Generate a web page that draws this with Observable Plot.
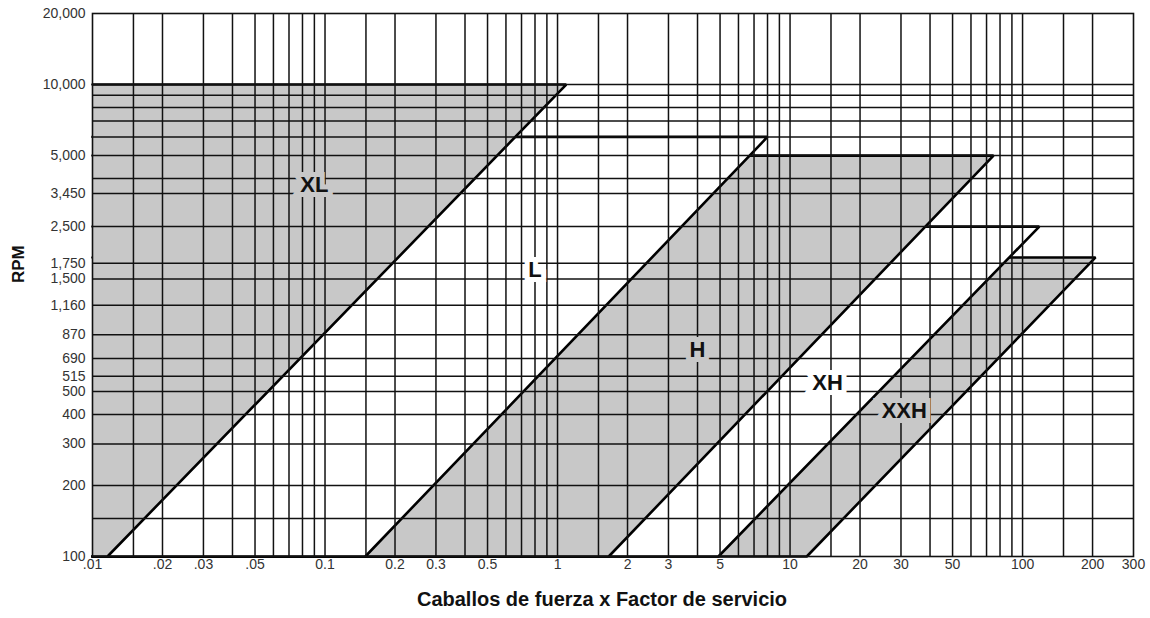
<!DOCTYPE html>
<html><head><meta charset="utf-8">
<script src="https://cdn.jsdelivr.net/npm/d3@7"></script>
<script src="https://cdn.jsdelivr.net/npm/@observablehq/plot@0.6"></script>
<style>body{margin:0;background:#fff;font-family:"Liberation Sans",Arial,sans-serif;}</style>
</head><body><div id="chart"></div>
<script>
// Belt sections: top RPM, HP where the top line ends, HP at 100 RPM
const belts   = ["XL", "L", "H", "XH", "XXH"];
const topRpm  = [10000, 6000, 5000, 2500, 1850];
const hpAtTop = [1.09, 8.0, 75, 118, 206];
const hpAt100 = [0.0116, 0.149, 1.66, 4.92, 11.8];
const shaded  = [true, false, true, false, true];
const labelHp  = [0.09, 0.8, 4, 14.5, 31];
const labelRpm = [3750, 1630, 750, 545, 415];

const xTicks = [0.01, 0.02, 0.03, 0.05, 0.1, 0.2, 0.3, 0.5, 1, 2, 3, 5, 10, 20, 30, 50, 100, 200, 300];
const xTickLabels = [".01", ".02", ".03", ".05", "0.1", "0.2", "0.3", "0.5", "1", "2", "3", "5", "10", "20", "30", "50", "100", "200", "300"];
const yTicks = [100, 200, 300, 400, 500, 580, 690, 870, 1160, 1500, 1750, 2500, 3450, 5000, 10000, 20000];
const yTickLabels = ["100", "200", "300", "400", "500", "515", "690", "870", "1,160", "1,500", "1,750", "2,500", "3,450", "5,000", "10,000", "20,000"];

const xGrid = [0.015, 0.02, 0.03, 0.04, 0.05, 0.06, 0.07, 0.08, 0.09,
  0.1, 0.15, 0.2, 0.3, 0.4, 0.5, 0.6, 0.7, 0.8, 0.9,
  1, 1.5, 2, 3, 4, 5, 6, 7, 8, 9,
  10, 15, 20, 30, 40, 50, 60, 70, 80, 90,
  100, 150, 200];
const yGrid = [145, 200, 300, 400, 500, 580, 690, 870, 1160, 1500, 1750, 2500, 3450, 4000, 5000, 6000, 7000, 8000, 9000, 10000];

const xDomain = [0.01, 300];
const yDomain = [100, 20000];
const GREY = "#c8c8c8";

// polygons: region left of each belt's diagonal and below its top, drawn right-to-left
const polys = belts.map((b, i) => ({
  belt: b, shaded: shaded[i],
  pts: [
    {x: xDomain[0], y: yDomain[0]},
    {x: hpAt100[i], y: yDomain[0]},
    {x: hpAtTop[i], y: topRpm[i]},
    {x: xDomain[0], y: topRpm[i]}
  ]
})).reverse();

const labels = belts.map((b, i) => ({b, x: labelHp[i], y: labelRpm[i], bg: shaded[i] ? GREY : "white"}));
const xTickData = xTicks.map((v, i) => ({v, t: xTickLabels[i]}));
const yTickData = yTicks.map((v, i) => ({v, t: yTickLabels[i]}));

const marks = [];
for (const p of polys) {
  marks.push(Plot.line(p.pts, {x: "x", y: "y", fill: p.shaded ? GREY : "white", stroke: "#000", strokeWidth: 2.6, strokeLinejoin: "miter"}));
}
marks.push(Plot.ruleX(xGrid, {stroke: "#111", strokeWidth: 1.5}));
marks.push(Plot.ruleY(yGrid, {stroke: "#111", strokeWidth: 1.5}));
marks.push(Plot.frame({stroke: "#111", strokeWidth: 1.6}));
marks.push(Plot.text(xTickData, {x: "v", text: "t", frameAnchor: "bottom", dy: 12, fontSize: 14, fill: "#333"}));
marks.push(Plot.text(yTickData, {y: "v", text: "t", frameAnchor: "left", dx: -7, textAnchor: "end", fontSize: 14, fill: "#333"}));
marks.push(Plot.text(labels, {x: "x", y: "y", text: "b", fontSize: 22, fontWeight: "bold", fill: "bg", stroke: "bg", strokeWidth: 10, strokeLinejoin: "miter"}));
marks.push(Plot.text(labels, {x: "x", y: "y", text: "b", fontSize: 22, fontWeight: "bold", fill: "#111"}));
marks.push(Plot.text(["RPM"], {text: d => d, frameAnchor: "left", dx: -74, dy: -2, rotate: -90, fontSize: 17, fontWeight: "bold", fill: "#111"}));
marks.push(Plot.text(["Caballos de fuerza x Factor de servicio"], {text: d => d, frameAnchor: "bottom", dx: -11, dy: 49, fontSize: 20, fontWeight: "bold", fill: "#111"}));

const chart = Plot.plot({
  width: 1150, height: 618,
  marginLeft: 92, marginRight: 17, marginTop: 13, marginBottom: 62,
  style: {fontFamily: "'Liberation Sans', Arial, sans-serif", background: "#fff"},
  x: {type: "log", domain: xDomain, axis: null},
  y: {type: "log", domain: yDomain, axis: null},
  marks
});
document.getElementById("chart").appendChild(chart);
</script>
</body></html>
